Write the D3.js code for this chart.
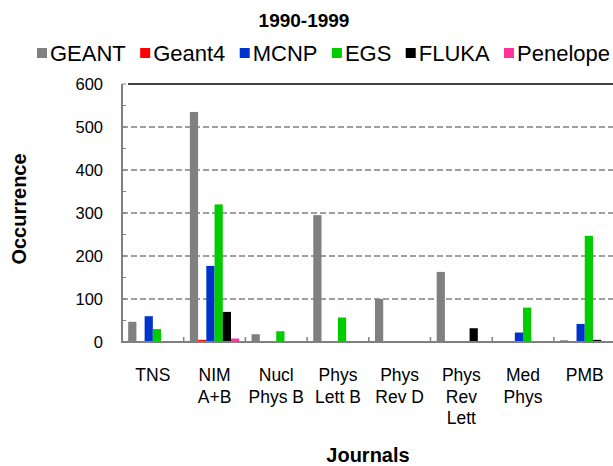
<!DOCTYPE html>
<html>
<head>
<meta charset="utf-8">
<script src="https://cdn.jsdelivr.net/npm/d3@7"></script>
<style>
  body { margin: 0; background: #fff; }
  svg { font-family: "Liberation Sans", Arial, sans-serif; }
</style>
</head>
<body>
<svg id="chart" width="613" height="466"></svg>
<script>
// journals on the x axis (multi-line labels)
var journals = ["TNS", "NIM A+B", "Nucl Phys B", "Phys Lett B", "Phys Rev D", "Phys Rev Lett", "Med Phys", "PMB"];
var journalLines = [["TNS"], ["NIM", "A+B"], ["Nucl", "Phys B"], ["Phys", "Lett B"], ["Phys", "Rev D"], ["Phys", "Rev", "Lett"], ["Med", "Phys"], ["PMB"]];

var codes = ["GEANT", "Geant4", "MCNP", "EGS", "FLUKA", "Penelope"];
var codeColors = ["#808080", "#ff0000", "#0033cc", "#00cc00", "#000000", "#ff3399"];

// occurrences per code, one value per journal
var geant    = [47, 535, 18, 295, 100, 163, 0, 4];
var geant4   = [1, 5, 0, 0, 0, 0, 0, 0];
var mcnp     = [60, 177, 1, 1, 0, 0, 22, 42];
var egs      = [30, 320, 25, 57, 0, 0, 80, 247];
var fluka    = [1, 70, 0, 0, 2, 32, 0, 5];
var penelope = [1, 8, 0, 0, 0, 0, 0, 1];
var series = [geant, geant4, mcnp, egs, fluka, penelope];

var yTicks = [0, 100, 200, 300, 400, 500, 600];

var svg = d3.select("#chart");
var plotLeft = 122, plotRight = 615.6, plotTop = 84, plotBottom = 342;

var x0 = d3.scaleBand().domain(journals).range([plotLeft, plotRight]).paddingInner(0.2).paddingOuter(0.1);
var x1 = d3.scaleBand().domain(codes).range([0, x0.bandwidth()]);
var y = d3.scaleLinear().domain([0, 600]).range([plotBottom, plotTop]);

// title
svg.append("text")
    .attr("x", 304).attr("y", 27)
    .attr("text-anchor", "middle")
    .attr("font-weight", "bold")
    .attr("font-size", 19)
    .text("1990-1999");

// grid lines
svg.append("g").selectAll("line")
    .data(yTicks.filter(function(d) { return d > 0 && d < 600; }))
    .enter().append("line")
      .attr("x1", plotLeft).attr("x2", 613)
      .attr("y1", function(d) { return y(d); })
      .attr("y2", function(d) { return y(d); })
      .attr("stroke", "#808080")
      .attr("stroke-width", 1.5)
      .attr("stroke-dasharray", "6,3");

svg.append("line")
    .attr("x1", plotLeft + 6).attr("x2", 613)
    .attr("y1", y(600)).attr("y2", y(600))
    .attr("stroke", "#000").attr("stroke-width", 1.5);

// bars
var rows = journals.map(function(j, i) {
  return codes.map(function(c, k) { return { journal: j, code: c, value: series[k][i], color: codeColors[k] }; });
});

svg.append("g").selectAll("g")
    .data(rows)
    .enter().append("g")
      .attr("transform", function(d, i) { return "translate(" + x0(journals[i]) + ",0)"; })
    .selectAll("rect")
    .data(function(d) { return d; })
    .enter().append("rect")
      .attr("x", function(d) { return x1(d.code); })
      .attr("width", x1.bandwidth())
      .attr("y", function(d) { return y(d.value); })
      .attr("height", function(d) { return y(0) - y(d.value); })
      .attr("fill", function(d) { return d.color; });

// y axis
var yAxis = svg.append("g").attr("transform", "translate(" + plotLeft + ",0)");
yAxis.append("line")
    .attr("x1", 0).attr("x2", 0).attr("y1", plotTop).attr("y2", plotBottom + 1)
    .attr("stroke", "#808080").attr("stroke-width", 2);
yAxis.selectAll(".minor")
    .data(d3.range(0, 601, 50))
    .enter().append("line")
      .attr("x1", 0).attr("x2", 4)
      .attr("y1", function(d) { return y(d); })
      .attr("y2", function(d) { return y(d); })
      .attr("stroke", "#808080").attr("stroke-width", 1);
yAxis.selectAll("text")
    .data(yTicks)
    .enter().append("text")
      .attr("x", -19)
      .attr("y", function(d) { return y(d) + 6; })
      .attr("text-anchor", "end")
      .attr("font-size", 16.5)
      .text(function(d) { return d; });

// x axis
var xAxis = svg.append("g");
xAxis.append("line")
    .attr("x1", plotLeft - 1).attr("x2", 613).attr("y1", plotBottom).attr("y2", plotBottom)
    .attr("stroke", "#808080").attr("stroke-width", 2);
xAxis.selectAll(".tick")
    .data(journals.slice(1))
    .enter().append("line")
      .attr("x1", function(d) { return x0(d) - x0.step() * x0.paddingInner() / 2; })
      .attr("x2", function(d) { return x0(d) - x0.step() * x0.paddingInner() / 2; })
      .attr("y1", plotBottom).attr("y2", plotBottom - 5)
      .attr("stroke", "#808080").attr("stroke-width", 1.5);

var labels = xAxis.selectAll(".lab")
    .data(journalLines)
    .enter().append("text")
      .attr("text-anchor", "middle")
      .attr("font-size", 17.5)
      .attr("transform", function(d, i) { return "translate(" + (x0(journals[i]) + x0.bandwidth() / 2) + ",381)"; });
labels.selectAll("tspan")
    .data(function(d) { return d; })
    .enter().append("tspan")
      .attr("x", 0)
      .attr("y", function(d, i) { return i * 21.5; })
      .text(function(d) { return d; });

// axis titles
svg.append("text")
    .attr("x", 368).attr("y", 462)
    .attr("text-anchor", "middle")
    .attr("font-weight", "bold").attr("font-size", 20)
    .text("Journals");
svg.append("text")
    .attr("transform", "translate(26,209) rotate(-90)")
    .attr("text-anchor", "middle")
    .attr("font-weight", "bold").attr("font-size", 20)
    .text("Occurrence");

// legend, spread from x=37 to x=610
var legend = svg.append("g").attr("font-size", 22);
var items = codes.map(function(c, k) {
  var g = legend.append("g");
  g.append("rect").attr("y", 48).attr("width", 10).attr("height", 10).attr("fill", codeColors[k]);
  var t = g.append("text").attr("x", 13).attr("y", 61).text(c);
  return { g: g, w: 13 + t.node().getComputedTextLength() };
});
var totalW = d3.sum(items, function(d) { return d.w; });
var gap = (610 - 37 - totalW) / (items.length - 1);
var lx = 37;
items.forEach(function(d) {
  d.g.attr("transform", "translate(" + lx + ",0)");
  lx += d.w + gap;
});
</script>
</body>
</html>
